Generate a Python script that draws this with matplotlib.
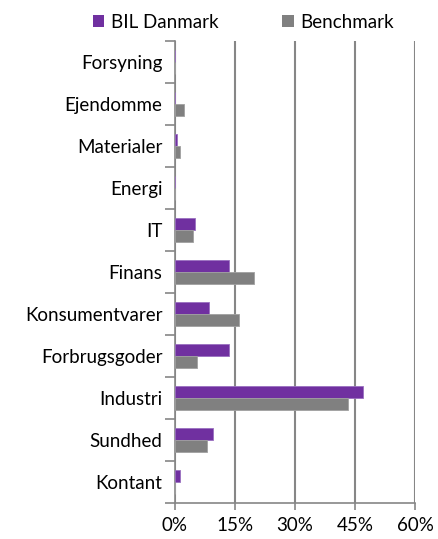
import matplotlib
matplotlib.use('Agg')
import matplotlib.pyplot as plt
import numpy as np

plt.rcParams['font.family'] = ['Lato', 'DejaVu Sans']

categories = ['Forsyning', 'Ejendomme', 'Materialer', 'Energi', 'IT', 'Finans',
              'Konsumentvarer', 'Forbrugsgoder', 'Industri', 'Sundhed', 'Kontant']
bil_danmark = [0.0, 0.0, 0.6, 0.0, 5.0, 13.5, 8.6, 13.5, 47.0, 9.5, 1.3]
benchmark = [0.1, 2.3, 1.2, 0.1, 4.5, 19.8, 16.0, 5.5, 43.2, 8.0, 0.0]
xticks = [0, 15, 30, 45, 60]

purple = '#7030A0'
grey = '#808080'
axis_grey = '#868686'
fs = 13.5

fig = plt.figure(figsize=(4.38, 5.39), dpi=100)
ax = fig.add_axes([0.3995, 0.0668, 0.548, 0.857])

n = len(categories)
y = np.arange(n)[::-1]
h = 0.29

ax.barh(y + h / 2, bil_danmark, h, color=purple, edgecolor='#9a70c0', linewidth=0.6,
        label='BIL Danmark', zorder=3)
ax.barh(y - h / 2, benchmark, h, color=grey, edgecolor='#a0a0a0', linewidth=0.6,
        label='Benchmark', zorder=3)

ax.set_xlim(0, 60)
ax.set_ylim(-0.5, n - 0.5)
ax.set_xticks(xticks)
ax.set_xticklabels([f'{v}%' for v in xticks], fontsize=fs)
ax.set_yticks(y)
ax.set_yticklabels(categories, fontsize=fs)
ax.tick_params(axis='y', length=0, pad=9)
ax.set_yticks(np.arange(-0.5, n, 1), minor=True)
ax.tick_params(axis='y', which='minor', length=7, width=1.2, color=axis_grey, direction='out')
ax.tick_params(axis='x', length=5, width=1.2, color=axis_grey, direction='out', pad=5)

ax.grid(axis='x', color=axis_grey, linewidth=1.5, zorder=0)
for s in ['top', 'right']:
    ax.spines[s].set_visible(False)
for s in ['left', 'bottom']:
    ax.spines[s].set_color(axis_grey)
    ax.spines[s].set_linewidth(1.2)

leg = ax.legend(loc='lower center', bbox_to_anchor=(0.285, 1.0), ncol=2, frameon=False,
                fontsize=fs, handlelength=0.6, handleheight=0.6, handletextpad=0.35,
                columnspacing=3.4, borderaxespad=0.15)
for p in leg.get_patches():
    p.set_linewidth(0)

fig.savefig('out.png', dpi=100)
